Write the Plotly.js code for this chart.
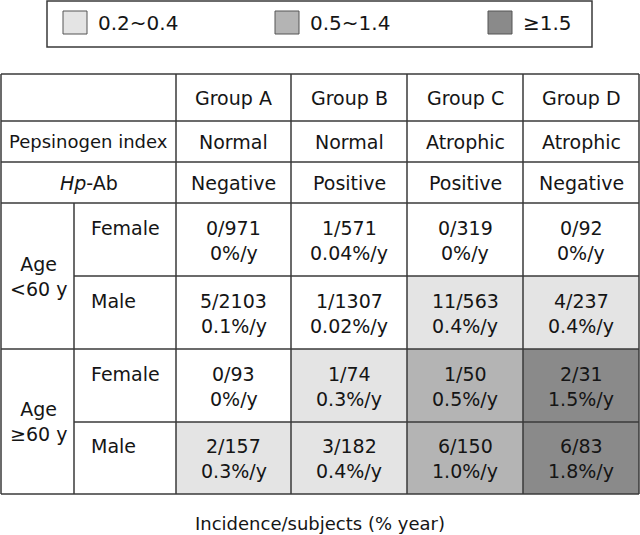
<!DOCTYPE html>
<html>
<head>
<meta charset="utf-8">
<script src="https://cdn.plot.ly/plotly-3.0.1.min.js"></script>
<style>html,body{margin:0;padding:0;background:#fff;}#chart{width:640px;height:535px;}</style>
</head>
<body>
<div id="chart"></div>
<script>
// ---- data ----
const groups = ['Group A', 'Group B', 'Group C', 'Group D'];
const pepsinogen = ['Normal', 'Normal', 'Atrophic', 'Atrophic'];
const hpAb = ['Negative', 'Positive', 'Positive', 'Negative'];
const ageBands = ['Age<br><60 y', 'Age<br>≥60 y'];
const sexes = ['Female', 'Male'];
// rows: <60 Female, <60 Male, >=60 Female, >=60 Male
const cases = [[0, 1, 0, 0], [5, 1, 11, 4], [0, 1, 1, 2], [2, 3, 6, 6]];
const subjects = [[971, 571, 319, 92], [2103, 1307, 563, 237], [93, 74, 50, 31], [157, 182, 150, 83]];
const rates = [[0, 0.04, 0, 0], [0.1, 0.02, 0.4, 0.4], [0, 0.3, 0.5, 1.5], [0.3, 0.4, 1.0, 1.8]];
const rateLabels = [['0', '0.04', '0', '0'], ['0.1', '0.02', '0.4', '0.4'], ['0', '0.3', '0.5', '1.5'], ['0.3', '0.4', '1.0', '1.8']];
const legendLabels = ['0.2~0.4', '0.5~1.4', '≥1.5'];
const footnote = 'Incidence/subjects (% year)';

// ---- styling / geometry ----
const FONT = 'DejaVu Sans, sans-serif';
const FS = 19;
const levelColors = ['#ffffff', '#e4e4e4', '#b4b4b4', '#8a8a8a'];
const lineColor = '#3a3a3a';
const colEdges = [1, 74, 176, 291, 407, 523, 639];
const rowEdges = [74, 121, 162, 203, 276, 349, 422, 494];
const level = r => r >= 1.5 ? 3 : r >= 0.5 ? 2 : r >= 0.2 ? 1 : 0;
const mid = (a, b) => (a + b) / 2;

const heat = {
  type: 'heatmap',
  x: colEdges.slice(2),
  y: rowEdges.slice(3),
  z: rates.map(row => row.map(level)),
  zmin: 0, zmax: 3,
  colorscale: [[0, levelColors[0]], [0.1667, levelColors[0]], [0.1667, levelColors[1]], [0.5, levelColors[1]],
               [0.5, levelColors[2]], [0.8333, levelColors[2]], [0.8333, levelColors[3]], [1, levelColors[3]]],
  showscale: false,
  hoverinfo: 'skip'
};

const shapes = [];
const line = (x0, y0, x1, y1) => shapes.push({type: 'line', xref: 'x', yref: 'y', x0, y0, x1, y1, layer: 'above',
  line: {color: lineColor, width: 1.5}});
// horizontal
[0, 1, 2, 3, 5, 7].forEach(i => line(colEdges[0], rowEdges[i], colEdges[6], rowEdges[i]));
[4, 6].forEach(i => line(colEdges[1], rowEdges[i], colEdges[6], rowEdges[i]));
// vertical
[0, 2, 3, 4, 5, 6].forEach(j => line(colEdges[j], rowEdges[0], colEdges[j], rowEdges[7]));
line(colEdges[1], rowEdges[3], colEdges[1], rowEdges[7]);

const ann = [];
const txt = (text, x, y, xanchor, size) => ann.push({text, x, y, xref: 'x', yref: 'y', showarrow: false,
  xanchor: xanchor || 'center', yanchor: 'middle', font: {family: FONT, size: size || FS, color: '#151515'}});

// header rows
groups.forEach((g, j) => txt(g, mid(colEdges[j + 2], colEdges[j + 3]), mid(rowEdges[0], rowEdges[1])));
txt('Pepsinogen index', mid(colEdges[0], colEdges[2]), mid(rowEdges[1], rowEdges[2]), 'center', 18);
pepsinogen.forEach((g, j) => txt(g, mid(colEdges[j + 2], colEdges[j + 3]), mid(rowEdges[1], rowEdges[2])));
txt('<i>Hp</i>-Ab', mid(colEdges[0], colEdges[2]), mid(rowEdges[2], rowEdges[3]));
hpAb.forEach((g, j) => txt(g, mid(colEdges[j + 2], colEdges[j + 3]), mid(rowEdges[2], rowEdges[3])));

// age bands and sexes
ageBands.forEach((a, k) => txt(a, mid(colEdges[0], colEdges[1]) + 1, mid(rowEdges[3 + 2 * k], rowEdges[5 + 2 * k])));
for (let r = 0; r < 4; r++) {
  const y0 = rowEdges[3 + r], y1 = rowEdges[4 + r];
  const c = mid(y0, y1);
  txt(sexes[r % 2], colEdges[1] + 15, c - 12, 'left');
  for (let j = 0; j < 4; j++) {
    const cx = mid(colEdges[j + 2], colEdges[j + 3]);
    txt(cases[r][j] + '/' + subjects[r][j], cx, c - 12);
    txt(rateLabels[r][j] + '%/y', cx, c + 13);
  }
}

// legend box
shapes.push({type: 'rect', xref: 'x', yref: 'y', x0: 47, y0: 1, x1: 592, y1: 47, line: {color: lineColor, width: 1.5}, fillcolor: 'rgba(0,0,0,0)'});
const swX = [63, 275, 488];
legendLabels.forEach((l, i) => {
  shapes.push({type: 'rect', xref: 'x', yref: 'y', x0: swX[i], y0: 11, x1: swX[i] + 24, y1: 34,
    line: {color: '#555', width: 1}, fillcolor: levelColors[i + 1]});
  txt(l, swX[i] + 33, 23, 'left', 20);
});

txt(footnote, 320, 523, 'center', 18);

const layout = {
  width: 640, height: 535,
  margin: {l: 0, r: 0, t: 0, b: 0},
  paper_bgcolor: '#fff', plot_bgcolor: '#fff',
  xaxis: {range: [0, 640], visible: false, fixedrange: true},
  yaxis: {range: [535, 0], visible: false, fixedrange: true},
  shapes, annotations: ann, showlegend: false
};
Plotly.newPlot('chart', [heat], layout, {displayModeBar: false, staticPlot: true});
</script>
</body>
</html>
